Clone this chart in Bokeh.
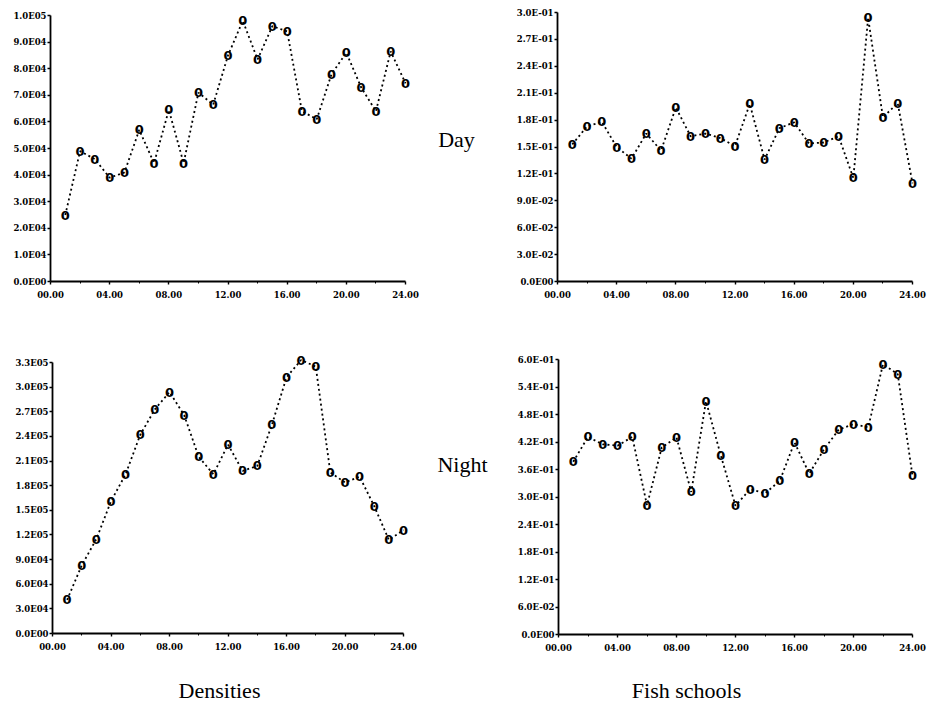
from bokeh.plotting import figure
from bokeh.layouts import column, row
from bokeh.models import FixedTicker, Range1d, Label, ColumnDataSource
from bokeh.core.properties import value
from bokeh.embed import file_html
from bokeh.resources import INLINE

# ---------------- data ----------------
hours = list(range(1, 25))

day_density = [25000, 49000, 46000, 39000, 41000, 57000, 44500, 64500, 44500, 71000,
               66500, 85000, 98000, 83500, 96000, 94000, 64000, 61000, 78000, 86000,
               73000, 64000, 86500, 74500]
day_schools = [0.153, 0.173, 0.178, 0.150, 0.137, 0.165, 0.146, 0.194, 0.162, 0.165,
               0.160, 0.151, 0.198, 0.136, 0.171, 0.1775, 0.154, 0.155, 0.162, 0.1155,
               0.294, 0.183, 0.199, 0.1095]
night_density = [41000, 83000, 115000, 161000, 194000, 242000, 273000, 294000, 266000, 215000,
                 194000, 230000, 198000, 204000, 254000, 312000, 333000, 325000, 196000, 184000,
                 191000, 155000, 114000, 126000]
night_schools = [0.377, 0.431, 0.415, 0.412, 0.431, 0.282, 0.408, 0.430, 0.311, 0.509,
                 0.391, 0.281, 0.317, 0.308, 0.335, 0.419, 0.351, 0.404, 0.447, 0.459,
                 0.452, 0.590, 0.568, 0.346]

x_ticks = [0, 4, 8, 12, 16, 20, 24]
x_minor = [2, 6, 10, 14, 18, 22]
x_labels = ["00.00", "04.00", "08.00", "12.00", "16.00", "20.00", "24.00"]

day_density_ticks = [0, 10000, 20000, 30000, 40000, 50000, 60000, 70000, 80000, 90000, 100000]
day_density_labels = ["0.0E00", "1.0E04", "2.0E04", "3.0E04", "4.0E04", "5.0E04",
                      "6.0E04", "7.0E04", "8.0E04", "9.0E04", "1.0E05"]
day_schools_ticks = [0, 0.03, 0.06, 0.09, 0.12, 0.15, 0.18, 0.21, 0.24, 0.27, 0.3]
day_schools_labels = ["0.0E00", "3.0E-02", "6.0E-02", "9.0E-02", "1.2E-01", "1.5E-01",
                      "1.8E-01", "2.1E-01", "2.4E-01", "2.7E-01", "3.0E-01"]
night_density_ticks = [0, 30000, 60000, 90000, 120000, 150000, 180000, 210000, 240000,
                       270000, 300000, 330000]
night_density_labels = ["0.0E00", "3.0E04", "6.0E04", "9.0E04", "1.2E05", "1.5E05",
                        "1.8E05", "2.1E05", "2.4E05", "2.7E05", "3.0E05", "3.3E05"]
night_schools_ticks = [0, 0.06, 0.12, 0.18, 0.24, 0.3, 0.36, 0.42, 0.48, 0.54, 0.6]
night_schools_labels = ["0.0E00", "6.0E-02", "1.2E-01", "1.8E-01", "2.4E-01", "3.0E-01",
                        "3.6E-01", "4.2E-01", "4.8E-01", "5.4E-01", "6.0E-01"]

row_labels = ["Day", "Night"]
col_labels = ["Densities", "Fish schools"]

# ---------------- layout helpers ----------------
TICK_FONT = "DejaVu Serif"
LABEL_FONT = "Liberation Serif"


def panel(ys, yticks, ylabels, W, H, x0, x24, ytop, y0):
    """Panel whose frame fills the canvas right/top; axes stay at 0..24 / 0..ymax."""
    ymax = yticks[-1]
    px_per_h = (x24 - x0) / 24
    fw = W - x0
    fh = y0
    p = figure(frame_width=fw, frame_height=fh,
               min_border_left=x0, min_border_right=0,
               min_border_top=0, min_border_bottom=H - y0,
               x_range=Range1d(0, fw / px_per_h),
               y_range=Range1d(0, ymax * y0 / (y0 - ytop)),
               output_backend="svg", toolbar_location=None, tools="")
    p.outline_line_color = None
    p.xgrid.visible = False
    p.ygrid.visible = False
    p.background_fill_color = "white"
    p.border_fill_color = "white"

    src = ColumnDataSource(dict(x=hours, y=ys, t=["0"] * len(hours)))
    p.line("x", "y", source=src, line_color="black", line_width=1.8, line_dash="2 3")
    p.text("x", "y", text="t", source=src, text_font=value("DejaVu Sans"),
           text_font_style="bold", text_font_size="13px", text_color="black",
           text_align="center", text_baseline="middle")

    xa = p.xaxis[0]
    xa.ticker = FixedTicker(ticks=x_ticks, minor_ticks=x_minor)
    xa.major_label_overrides = dict(zip(x_ticks, x_labels))
    xa.bounds = (0, 24)
    ya = p.yaxis[0]
    ya.ticker = FixedTicker(ticks=yticks)
    ya.major_label_overrides = dict(zip(yticks, ylabels))
    ya.bounds = (0, ymax)
    for ax in (xa, ya):
        ax.axis_line_color = "black"
        ax.axis_line_width = 1.8
        ax.major_tick_line_color = "black"
        ax.major_tick_line_width = 1.4
        ax.major_tick_in = 0
        ax.major_tick_out = 3
        ax.minor_tick_in = 0
        ax.minor_tick_out = 2
        ax.minor_tick_line_color = "black"
        ax.major_label_text_font = TICK_FONT
        ax.major_label_text_font_style = "bold"
        ax.major_label_text_font_size = "8.5px"
        ax.major_label_text_color = "black"
    ya.minor_tick_line_color = None
    ya.major_label_standoff = 1
    xa.major_label_standoff = 6
    return p


tl = panel(day_density, day_density_ticks, day_density_labels, 500, 330, 50, 405, 15, 281)
tr = panel(day_schools, day_schools_ticks, day_schools_labels, 429, 330, 57, 412, 12, 281)
bl = panel(night_density, night_density_ticks, night_density_labels, 500, 330, 52, 403, 32, 303)
br = panel(night_schools, night_schools_ticks, night_schools_labels, 429, 330, 58, 412, 29, 304)


def add_label(p, text, x, y):
    p.add_layout(Label(x=x, y=y, text=text, text_font=LABEL_FONT, text_font_size="22px",
                       text_color="black", text_align="center", text_baseline="middle"))


add_label(tl, row_labels[0], 27.45, 53400)
add_label(bl, row_labels[1], 28.03, 205800)

# strip of column titles under the panels
foot = figure(frame_width=929, frame_height=52, min_border=0,
              x_range=Range1d(0, 929), y_range=Range1d(52, 0),
              output_backend="svg", toolbar_location=None, tools="")
foot.axis.visible = False
foot.grid.visible = False
foot.outline_line_color = None
add_label(foot, col_labels[0], 219, 30)
add_label(foot, col_labels[1], 686, 30)

layout = column(row(tl, tr), row(bl, br), foot)
open("out.html", "w").write(file_html(layout, INLINE))
